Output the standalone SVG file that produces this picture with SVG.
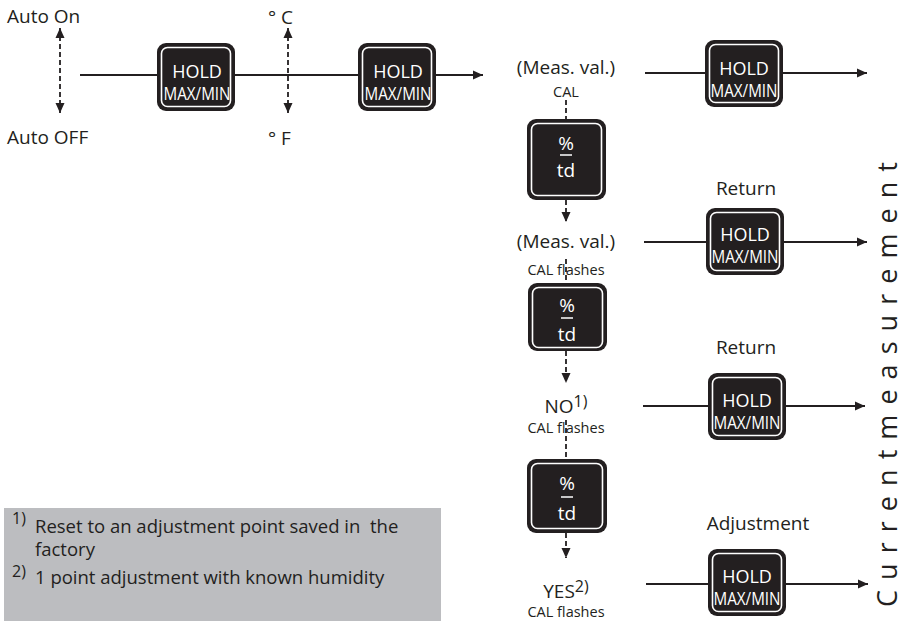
<svg xmlns="http://www.w3.org/2000/svg" width="905" height="622" viewBox="0 0 905 622">
<defs>
<style>
text{font-family:"Open Sans","Noto Sans","Liberation Sans",sans-serif;fill:#231f20}
.lbl{font-size:19px}
.sm{font-size:14.5px}
.sup{font-size:16px}
.btn{fill:#231f20;stroke:none}
.inr{fill:none;stroke:#ffffff;stroke-width:1.6}
.bt{fill:#ffffff;font-size:18px;text-anchor:middle}
.pt{fill:#ffffff;font-size:19px;text-anchor:middle}
.mid{text-anchor:middle}
.ln{stroke:#231f20;stroke-width:1.8;fill:none}
.dl{stroke:#231f20;stroke-width:1.8;fill:none;stroke-dasharray:5 3}
.note{font-size:18.5px}
</style>
<marker id="ah" viewBox="0 0 10 10" refX="10" refY="5" markerWidth="10" markerHeight="10" markerUnits="userSpaceOnUse" orient="auto-start-reverse">
<path d="M0,0.5 L10,5 L0,9.5 Z" fill="#231f20"/>
</marker>
</defs>
<rect width="905" height="622" fill="#ffffff"/>

<g id="footnotes">
<rect x="4" y="508" width="437" height="113" fill="#bcbdc0"/>
<text class="sup" x="12" y="524">1)</text>
<text class="note" x="35" y="533" xml:space="preserve">Reset to an adjustment point saved in  the</text>
<text class="note" x="35" y="556">factory</text>
<text class="sup" x="12" y="577">2)</text>
<text class="note" x="35" y="584">1 point adjustment with known humidity</text>
</g>

<g id="connectors">
<line class="ln" x1="80" y1="75" x2="157" y2="75"/>
<line class="ln" x1="235" y1="75" x2="358" y2="75"/>
<line class="ln" x1="436" y1="75" x2="483" y2="75" marker-end="url(#ah)"/>
<line class="dl" x1="60" y1="28" x2="60" y2="113" marker-start="url(#ah)" marker-end="url(#ah)"/>
<line class="dl" x1="288" y1="28" x2="288" y2="113" marker-start="url(#ah)" marker-end="url(#ah)"/>
<line class="ln" x1="645" y1="73" x2="705" y2="73"/>
<line class="ln" x1="783" y1="73" x2="867" y2="73" marker-end="url(#ah)"/>
<line class="ln" x1="644" y1="242" x2="706" y2="242"/>
<line class="ln" x1="784" y1="242" x2="867" y2="242" marker-end="url(#ah)"/>
<line class="ln" x1="643" y1="406" x2="708" y2="406"/>
<line class="ln" x1="785" y1="406" x2="865" y2="406" marker-end="url(#ah)"/>
<line class="ln" x1="646" y1="584" x2="708" y2="584"/>
<line class="ln" x1="786" y1="584" x2="868" y2="584" marker-end="url(#ah)"/>
<line class="dl" x1="566" y1="100" x2="566" y2="119"/>
<line class="dl" x1="566" y1="200" x2="566" y2="222" marker-end="url(#ah)"/>
<line class="dl" x1="566" y1="259" x2="566" y2="283"/>
<line class="dl" x1="566" y1="351" x2="566" y2="383" marker-end="url(#ah)"/>
<line class="dl" x1="566" y1="420" x2="566" y2="459"/>
<line class="dl" x1="566" y1="533" x2="566" y2="558" marker-end="url(#ah)"/>
</g>

<g id="auto-toggle">
<text class="lbl" x="7" y="23">Auto On</text>
<text class="lbl" x="7" y="144">Auto OFF</text>
</g>
<g id="unit-toggle">
<text class="lbl" x="268" y="24">° C</text>
<text class="lbl" x="268" y="145">° F</text>
</g>

<g id="hold1">
<rect class="btn" x="157" y="43" width="78" height="68" rx="9"/>
<rect class="inr" x="161.5" y="47.5" width="69" height="59" rx="6"/>
<text class="bt" x="197" y="78">HOLD</text>
<text class="bt" x="197" y="100" textLength="67" lengthAdjust="spacingAndGlyphs">MAX/MIN</text>
</g>
<g id="hold2">
<rect class="btn" x="358" y="43" width="78" height="68" rx="9"/>
<rect class="inr" x="362.5" y="47.5" width="69" height="59" rx="6"/>
<text class="bt" x="398" y="78">HOLD</text>
<text class="bt" x="398" y="100" textLength="67" lengthAdjust="spacingAndGlyphs">MAX/MIN</text>
</g>

<g id="meas1">
<text class="lbl mid" x="566" y="74">(Meas. val.)</text>
<text class="sm mid" x="566" y="97">CAL</text>
</g>
<g id="hold3">
<rect class="btn" x="705" y="40" width="78" height="67" rx="9"/>
<rect class="inr" x="709.5" y="44.5" width="69" height="58" rx="6"/>
<text class="bt" x="744" y="75">HOLD</text>
<text class="bt" x="744" y="97" textLength="67" lengthAdjust="spacingAndGlyphs">MAX/MIN</text>
</g>

<g id="pct1">
<rect class="btn" x="527" y="119" width="79" height="81" rx="9"/>
<rect class="inr" x="531.5" y="123.5" width="70" height="72" rx="6"/>
<text class="pt" x="566" y="150">%</text>
<line x1="560" y1="155" x2="572" y2="155" stroke="#ffffff" stroke-width="1.5"/>
<text class="pt" x="566" y="177">td</text>
</g>

<g id="meas2">
<text class="lbl mid" x="566" y="248">(Meas. val.)</text>
<text class="sm mid" x="566" y="275">CAL flashes</text>
</g>
<g id="return1">
<text class="lbl mid" x="746" y="195">Return</text>
</g>
<g id="hold4">
<rect class="btn" x="706" y="208" width="78" height="67" rx="9"/>
<rect class="inr" x="710.5" y="212.5" width="69" height="58" rx="6"/>
<text class="bt" x="745" y="241">HOLD</text>
<text class="bt" x="745" y="263" textLength="67" lengthAdjust="spacingAndGlyphs">MAX/MIN</text>
</g>

<g id="pct2">
<rect class="btn" x="528" y="283" width="79" height="68" rx="9"/>
<rect class="inr" x="532.5" y="287.5" width="70" height="60" rx="6"/>
<text class="pt" x="567" y="312">%</text>
<line x1="561" y1="318" x2="573" y2="318" stroke="#ffffff" stroke-width="1.5"/>
<text class="pt" x="567" y="341">td</text>
</g>

<g id="no">
<text class="lbl mid" x="566" y="413">NO<tspan class="sup" dy="-6">1)</tspan></text>
<text class="sm mid" x="566" y="433">CAL flashes</text>
</g>
<g id="return2">
<text class="lbl mid" x="746" y="354">Return</text>
</g>
<g id="hold5">
<rect class="btn" x="708" y="373" width="78" height="67" rx="9"/>
<rect class="inr" x="712.5" y="377.5" width="69" height="58" rx="6"/>
<text class="bt" x="747" y="407">HOLD</text>
<text class="bt" x="747" y="429" textLength="67" lengthAdjust="spacingAndGlyphs">MAX/MIN</text>
</g>

<g id="pct3">
<rect class="btn" x="527" y="459" width="80" height="74" rx="9"/>
<rect class="inr" x="531.5" y="463.5" width="71" height="65" rx="6"/>
<text class="pt" x="567" y="490">%</text>
<line x1="561" y1="497" x2="573" y2="497" stroke="#ffffff" stroke-width="1.5"/>
<text class="pt" x="567" y="520">td</text>
</g>

<g id="yes">
<text class="lbl mid" x="566" y="598">YES<tspan class="sup" dy="-6">2)</tspan></text>
<text class="sm mid" x="566" y="617">CAL flashes</text>
</g>
<g id="adjustment">
<text class="lbl mid" x="758" y="530">Adjustment</text>
</g>
<g id="hold6">
<rect class="btn" x="708" y="549" width="78" height="67" rx="9"/>
<rect class="inr" x="712.5" y="553.5" width="69" height="58" rx="6"/>
<text class="bt" x="747" y="583">HOLD</text>
<text class="bt" x="747" y="605" textLength="67" lengthAdjust="spacingAndGlyphs">MAX/MIN</text>
</g>

<g id="current-measurement">
<text transform="translate(897,607) rotate(-90)" x="0" y="0" font-size="27" textLength="445" lengthAdjust="spacing">Currentmeasurement</text>
</g>
</svg>
